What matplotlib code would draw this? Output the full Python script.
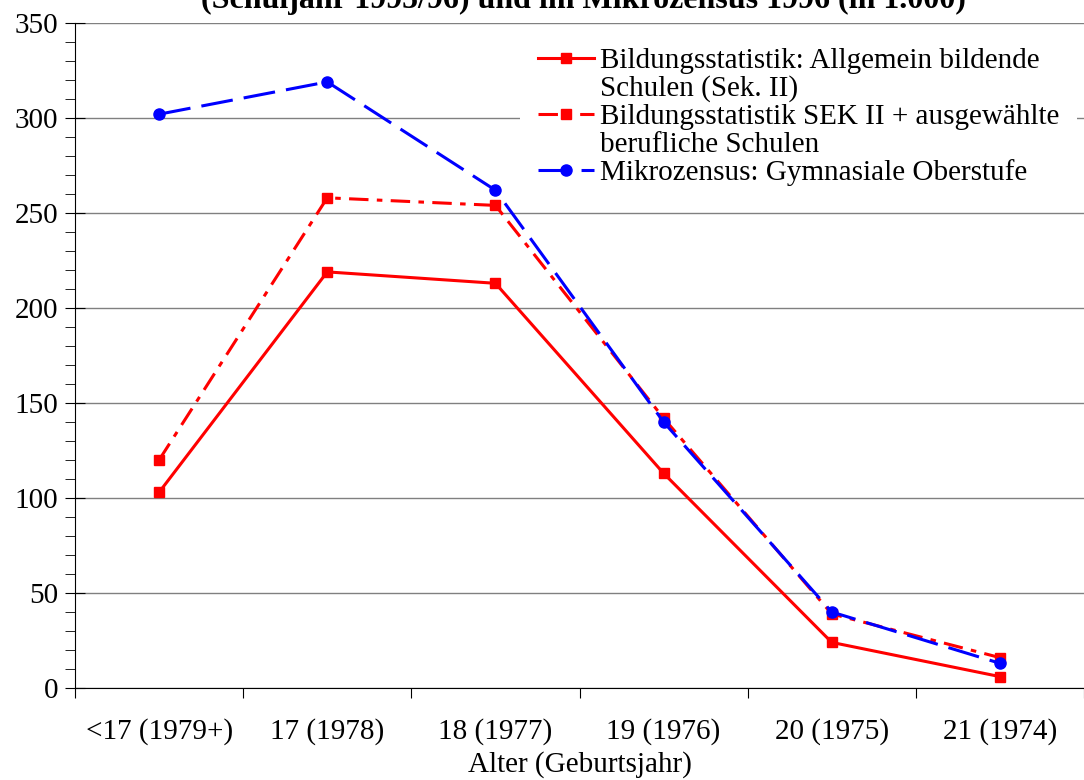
import matplotlib.pyplot as plt
from matplotlib.lines import Line2D
from matplotlib.ticker import MultipleLocator

plt.rcParams['font.family'] = ['Liberation Serif', 'DejaVu Serif']
plt.rcParams['lines.scale_dashes'] = False

categories = ['<17 (1979+)', '17 (1978)', '18 (1977)', '19 (1976)', '20 (1975)', '21 (1974)']
allg_bildend = [103, 219, 213, 113, 24, 6]
sek2_beruf = [120, 258, 254, 142, 39, 16]
mikrozensus = [302, 319, 262, 140, 40, 13]

fig = plt.figure(figsize=(10.84, 7.8), dpi=100)
ax = fig.add_axes([75/1084, 1-688/780, 1-75/1084, 665/780])

x = list(range(len(categories)))
l1, = ax.plot(x, allg_bildend, color='#ff0000', lw=2.2, marker='s', ms=7.5, zorder=3)
l2, = ax.plot(x, sek2_beruf, color='#ff0000', lw=2.2, marker='s', ms=7.5,
              dashes=[14, 6, 4, 6], zorder=3)
l3, = ax.plot(x, mikrozensus, color='#0000ff', lw=2.2, marker='o', ms=8,
              dashes=[23, 8], zorder=3)

ax.set_xlim(-0.5, (1084-160)/170)
ax.set_ylim(0, 350)
ax.yaxis.set_major_locator(MultipleLocator(50))
ax.yaxis.set_minor_locator(MultipleLocator(10))
ax.set_xticks([i - 0.5 for i in range(7)], minor=False)
ax.set_xticklabels([])
ax.set_xticks(x, minor=True)
ax.set_xticklabels(categories, minor=True)
ax.tick_params(axis='x', which='minor', length=0, pad=22, labelsize=21)
ax.tick_params(axis='x', which='major', length=7, direction='out')
ax.tick_params(axis='y', which='major', length=14, direction='inout', labelsize=21, pad=5)
ax.tick_params(axis='y', which='minor', length=7, direction='out')

ax.grid(axis='y', which='major', color='#808080', lw=1)
ax.set_axisbelow(True)
for s in ['top', 'right']:
    ax.spines[s].set_visible(False)

ax.set_xlabel('Alter (Geburtsjahr)', fontsize=21, labelpad=4)

blank = Line2D([], [], color='none')
handles = [l1, blank, l2, blank, l3]
labels = ['Bildungsstatistik: Allgemein bildende', 'Schulen (Sek. II)',
          'Bildungsstatistik SEK II + ausgewählte', 'berufliche Schulen',
          'Mikrozensus: Gymnasiale Oberstufe']
leg = ax.legend(handles, labels, loc='upper left',
                bbox_to_anchor=((520-75)/1009, (688-30)/665),
                bbox_transform=ax.transAxes, fontsize=21, frameon=True, fancybox=False,
                handlelength=1.95, handletextpad=0.2, labelspacing=0.05,
                borderpad=0.6, borderaxespad=0)
leg.get_frame().set_edgecolor('none')
leg.get_frame().set_facecolor('white')
leg.get_frame().set_alpha(1)

fig.text(583/1084, 1-8/780, '(Schuljahr 1995/96) und im Mikrozensus 1996 (in 1.000)',
         ha='center', va='baseline', fontsize=23, fontweight='bold')

fig.savefig('out.png', dpi=100)
